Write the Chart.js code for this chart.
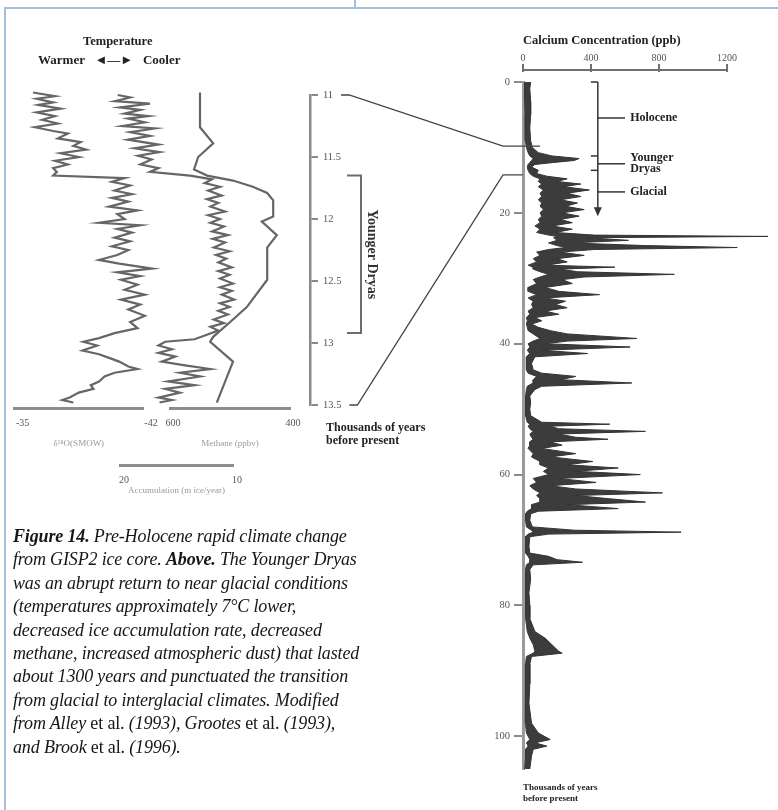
<!DOCTYPE html>
<html>
<head>
<meta charset="utf-8">
<script src="https://cdn.jsdelivr.net/npm/chart.js@4.4.1/dist/chart.umd.min.js"></script>
<style>
  body { margin: 0; background: #fff; }
  #page { position: relative; width: 778px; height: 810px; overflow: hidden; font-family: 'Liberation Serif', serif; }
  #page canvas { position: absolute; left: 0; top: 0; }
  .lbl { position: absolute; white-space: nowrap; font-weight: bold; color: #222; }
  .frame { position: absolute; background: #a6bfdc; }
  #caption { position: absolute; left: 13px; top: 525px; font-size: 18px; letter-spacing: -0.15px; line-height: 23.4px; font-style: italic; color: #161616; white-space: nowrap; }
  #caption .r { font-style: normal; }
</style>
</head>
<body>
<div id="page">
  <div class="frame" style="left:4px;top:7px;width:774px;height:2px"></div>
  <div class="frame" style="left:4px;top:7px;width:2px;height:803px"></div>
  <div class="frame" style="left:354px;top:0;width:2px;height:8px"></div>

  <canvas id="calC" width="778" height="810"></canvas>
  <canvas id="dC" width="778" height="810"></canvas>
  <canvas id="aC" width="778" height="810"></canvas>
  <canvas id="mC" width="778" height="810"></canvas>
  <canvas id="ageC" width="778" height="810"></canvas>

  <div class="lbl" style="left:83px;top:35px;font-size:12.5px;line-height:13px">Temperature</div>
  <div class="lbl" style="left:38px;top:53px;font-size:13px;line-height:13px">Warmer &nbsp;&nbsp;◄—►&nbsp;&nbsp; Cooler</div>
  <div class="lbl" style="left:326px;top:421px;font-size:12px;line-height:12.5px">Thousands of years<br>before present</div>
  <div class="lbl" style="left:523px;top:782px;font-size:9px;line-height:11px">Thousands of years<br>before present</div>

  <div id="caption">
    <b>Figure 14.</b> Pre-Holocene rapid climate change<br>
    from GISP2 ice core. <b>Above.</b> The Younger Dryas<br>
    was an abrupt return to near glacial conditions<br>
    (temperatures approximately 7°C lower,<br>
    decreased ice accumulation rate, decreased<br>
    methane, increased atmospheric dust) that lasted<br>
    about 1300 years and punctuated the transition<br>
    from glacial to interglacial climates. Modified<br>
    from Alley<span class="r"> et al.</span> (1993), Grootes<span class="r"> et al.</span> (1993),<br>
    and Brook<span class="r"> et al.</span> (1996).
  </div>
</div>

<script>
// δ18O record (left curve), ages in thousands of years
const d18Age = [10.96,10.98,11.01,11.03,11.06,11.08,11.11,11.14,11.17,11.20,
  11.23,11.26,11.29,11.31,11.35,11.38,11.41,11.44,11.47,11.50,
  11.53,11.56,11.59,11.62,11.65,11.67,11.70,11.73,11.77,11.80,
  11.83,11.86,11.90,11.93,11.96,12.00,12.03,12.05,12.08,12.11,
  12.15,12.18,12.22,12.25,12.29,12.33,12.36,12.40,12.43,12.46,
  12.49,12.53,12.57,12.61,12.65,12.69,12.73,12.78,12.83,12.88,
  12.92,12.96,12.99,13.02,13.06,13.09,13.12,13.15,13.19,13.21,
  13.24,13.27,13.31,13.34,13.37,13.40,13.44,13.46,13.48];
const d18Val = [-37.2,-36.0,-37.2,-36.2,-37.1,-36.3,-37.5,-36.2,-37.2,-36.5,
  -37.35,-36.1,-37.1,-37.9,-37.35,-38.6,-38.2,-38.9,-37.5,-38.5,
  -37.2,-37.9,-37.1,-37.3,-37.1,-41.0,-40.3,-41.3,-40.45,-41.4,
  -40.3,-41.2,-40.15,-41.7,-40.6,-41.0,-39.6,-41.85,-40.6,-41.4,
  -40.45,-41.3,-40.3,-41.2,-40.6,-39.6,-40.7,-42.5,-40.6,-41.85,
  -40.8,-41.7,-41.0,-42.1,-40.8,-41.85,-41.2,-42.1,-41.3,-41.7,
  -40.45,-39.6,-38.75,-39.5,-38.7,-39.6,-40.15,-40.7,-41.2,-41.7,
  -40.45,-39.9,-39.6,-39.15,-39.3,-38.5,-38.0,-37.6,-38.2];

// accumulation (middle curve)
const accAge = [11.00,11.02,11.05,11.07,11.10,11.12,11.15,11.17,11.19,11.22,
  11.25,11.27,11.30,11.33,11.36,11.40,11.43,11.46,11.49,11.52,
  11.56,11.59,11.62,11.65,11.68,11.71,11.74,11.77,11.81,11.84,
  11.87,11.90,11.94,11.97,12.00,12.03,12.06,12.10,12.13,12.16,
  12.19,12.23,12.26,12.29,12.32,12.35,12.39,12.42,12.45,12.48,
  12.52,12.55,12.58,12.61,12.65,12.68,12.71,12.74,12.77,12.81,
  12.84,12.87,12.90,12.94,12.97,12.99,13.02,13.05,13.08,13.11,
  13.15,13.18,13.21,13.24,13.27,13.31,13.34,13.37,13.40,13.44,
  13.46,13.48];
const accVal = [20.2,19.1,20.45,17.35,20.0,18.2,19.6,17.5,19.3,17.8,
  19.8,16.9,19.1,17.35,19.3,16.6,18.7,16.5,18.4,17.2,
  18.2,16.6,17.35,13.8,11.85,12.5,11.15,12.2,11.0,12.3,
  11.3,12.0,10.7,12.2,11.15,12.0,10.8,11.85,10.45,11.8,
  10.7,11.7,10.3,11.5,10.6,11.3,10.1,11.3,10.3,11.15,
  10.0,11.15,10.1,11.0,9.9,11.15,10.3,11.3,10.45,11.7,
  10.8,12.0,11.3,12.5,13.4,16.0,16.6,15.4,16.6,15.1,
  16.3,14.25,12.0,14.7,12.9,15.75,13.4,16.0,14.7,16.6,
  15.4,16.5];

// methane (right curve), ppbv
const ch4Age = [10.98,11.26,11.39,11.50,11.60,11.65,11.69,11.74,11.79,11.85,
  11.98,12.02,12.13,12.23,12.49,12.71,12.81,12.95,12.99,13.15,13.48];
const ch4Val = [550,550,528,553,560,538,495,462,438,428,
  428,447,422,438,438,472,495,528,533,495,522];

// calcium record, ppb (low / high envelope of the dense trace)
const calAge = [0,1,3,5,7,9,10,10.8,11.3,11.7,
  12.0,12.3,12.6,13.0,13.5,14.0,14.4,14.8,15.2,15.6,
  16.0,16.5,17.0,17.5,18.0,18.5,19.0,19.5,20.0,20.5,
  21.0,21.5,22.0,22.5,23.0,23.4,23.6,23.8,24.2,24.6,
  25.0,25.3,25.6,26.0,26.5,27.0,27.5,28.0,28.3,28.6,
  29.0,29.4,29.8,30.2,30.8,31.4,32.0,32.5,33.0,33.5,
  34.0,34.5,35.0,35.5,36.0,36.5,37.0,37.5,38.0,38.5,
  39.2,39.6,40.0,40.5,41.0,41.5,42.0,43.0,44.0,44.5,
  45.0,45.5,46.0,46.5,47.0,48.0,49.0,50.0,51.0,52.0,
  52.3,52.6,53.0,53.4,53.8,54.3,54.6,55.0,55.5,56.0,
  56.8,57.3,58.0,58.5,59.0,59.5,60.0,60.6,61.2,61.7,
  62.2,62.8,63.2,63.7,64.2,64.6,65.2,65.6,66.0,67.0,
  68.0,68.5,68.8,69.1,69.5,71.0,72.0,72.5,73.0,73.4,
  73.8,74.5,76.0,78.0,80.0,82.0,84.0,85.0,86.0,87.0,
  87.3,87.8,89.0,92.0,95.0,98.0,99.5,100.5,101.0,101.5,
  102.0,103.0,105.0];
const calLow = [10,10,10,12,12,15,20,30,40,60,
  50,40,30,25,30,40,60,100,90,110,
  90,120,100,110,90,110,100,120,100,110,
  90,100,70,100,80,150,200,180,200,150,
  200,250,150,80,100,60,80,30,60,60,
  100,150,100,60,80,30,30,80,30,60,
  50,60,30,40,20,25,20,25,30,60,
  100,60,30,40,25,40,20,20,20,30,
  80,60,60,25,20,15,15,15,15,25,
  40,30,40,60,40,50,60,40,40,30,
  60,50,100,100,150,120,150,60,80,40,
  60,100,80,100,100,50,50,25,15,15,
  20,50,60,30,15,15,15,30,40,40,
  20,15,15,15,15,15,25,40,60,70,
  60,20,15,15,12,15,20,40,20,30,
  15,15,10];
const calHigh = [45,40,45,45,40,45,55,90,170,330,
  300,180,70,50,90,80,140,260,200,340,
  240,390,260,340,220,320,250,360,230,330,
  220,290,170,290,190,420,1440,380,620,280,
  720,1260,420,220,360,200,260,140,540,220,
  320,890,360,230,290,130,210,450,130,250,
  190,260,130,210,70,110,50,90,160,260,
  670,260,130,630,110,380,70,50,60,110,
  310,220,640,110,70,40,45,40,45,110,
  510,160,210,720,210,310,500,160,230,110,
  310,160,410,260,560,310,690,210,430,160,
  310,820,310,510,720,260,560,90,45,40,
  55,300,930,150,40,35,40,150,200,350,
  60,40,45,35,40,40,70,130,170,210,
  230,50,40,40,35,50,90,160,70,140,
  60,50,40];

const calTicks = [0, 400, 800, 1200];
const ageTicks = [0, 20, 40, 60, 80, 100];
const zones = ['Holocene', 'Younger Dryas', 'Glacial'];
const zoneAge = [5.5, 12.5, 16.8];
const stageMarks = [11.3, 13.5];
const arrowPpb = 440;
const arrowAge = [0, 20.5];
const ydSpan = [11.65, 12.92];
const zoomLeft = [11, 13.5];
const zoomRight = [9.8, 14.2];
const zoomEnd = [100, 0];

const serif = "'Liberation Serif', serif";
const pts = (ys, xs) => ys.map((y, i) => ({ x: xs[i], y }));

// shift the layout padding until the plot area sits on the given box
function fit(chart, box) {
  for (let i = 0; i < 3; i++) {
    const a = chart.chartArea;
    const p = chart.config.options.layout.padding;
    chart.config.options.layout.padding = {
      left: p.left + box[0] - a.left,
      top: p.top + box[1] - a.top,
      right: p.right + a.right - box[2],
      bottom: p.bottom + a.bottom - box[3]
    };
    chart.update();
  }
}

const base = {
  indexAxis: 'y',
  responsive: false,
  animation: false,
  devicePixelRatio: 1,
  events: [],
  plugins: { legend: { display: false }, tooltip: { enabled: false } }
};

function curveChart(id, ages, vals, xr, ymax, title, titleGap, labelShift, box) {
  const chart = new Chart(document.getElementById(id), {
    type: 'line',
    data: {
      datasets: [{
        data: pts(ages, vals),
        borderColor: '#666',
        borderWidth: 2.2,
        pointRadius: 0,
        clip: false
      }]
    },
    options: {
      ...base,
      layout: { padding: { left: 0, top: 0, right: 0, bottom: 0 } },
      scales: {
        x: {
          type: 'linear',
          position: 'bottom',
          reverse: true,
          min: Math.min(...xr),
          max: Math.max(...xr),
          afterBuildTicks: (s) => { s.ticks = xr.map((v) => ({ value: v })); },
          grid: { display: false, drawTicks: false },
          border: { color: '#8d8d8d', width: 3 },
          ticks: { color: '#555', font: { family: serif, size: 10 }, padding: 8, labelOffset: labelShift,
            maxRotation: 0, autoSkip: false, callback: (v) => String(v) },
          title: { display: true, text: title, color: '#9a9a9a',
            font: { family: serif, size: 9 }, padding: { top: titleGap, bottom: 0 } }
        },
        y: { type: 'linear', reverse: true, min: 11, max: ymax, display: false }
      }
    }
  });
  fit(chart, box);
  return chart;
}

const calPlugin = {
  id: 'calAxis',
  afterDraw(chart) {
    const { ctx, chartArea: a, scales: { x, y } } = chart;
    const ay = a.top - 12;
    ctx.save();
    ctx.strokeStyle = '#6f6f6f';
    ctx.lineWidth = 2;
    ctx.beginPath();
    ctx.moveTo(x.getPixelForValue(0), ay);
    ctx.lineTo(x.getPixelForValue(calTicks[calTicks.length - 1]), ay);
    ctx.stroke();
    calTicks.forEach((v) => {
      const px = x.getPixelForValue(v);
      ctx.beginPath(); ctx.moveTo(px, ay - 6); ctx.lineTo(px, ay + 2); ctx.stroke();
    });

    // stage arrow with labels
    const ax = x.getPixelForValue(arrowPpb);
    const yTop = y.getPixelForValue(arrowAge[0]);
    const yBot = y.getPixelForValue(arrowAge[1]);
    ctx.strokeStyle = '#333';
    ctx.fillStyle = '#333';
    ctx.lineWidth = 1.5;
    ctx.beginPath(); ctx.moveTo(ax, yTop); ctx.lineTo(ax, yBot - 6); ctx.stroke();
    ctx.beginPath();
    ctx.moveTo(ax - 4, yBot - 9); ctx.lineTo(ax + 4, yBot - 9); ctx.lineTo(ax, yBot);
    ctx.closePath(); ctx.fill();
    [arrowAge[0], ...stageMarks].forEach((age) => {
      const py = y.getPixelForValue(age);
      ctx.beginPath(); ctx.moveTo(ax - 7, py); ctx.lineTo(ax, py); ctx.stroke();
    });
    ctx.font = `bold 12px ${serif}`;
    ctx.textBaseline = 'middle';
    ctx.fillStyle = '#222';
    zones.forEach((name, i) => {
      const py = y.getPixelForValue(zoneAge[i]);
      ctx.beginPath(); ctx.moveTo(ax, py); ctx.lineTo(x.getPixelForValue(600), py); ctx.stroke();
      const lines = name.split(' ');
      lines.forEach((t, j) => {
        ctx.fillText(t, x.getPixelForValue(630), py + (j - (lines.length - 1) / 2) * 11);
      });
    });
    ctx.restore();
  }
};

const calChart = new Chart(document.getElementById('calC'), {
  type: 'line',
  data: {
    datasets: [
      { data: pts(calAge, calLow), borderColor: '#3a3a3a', borderWidth: 1, pointRadius: 0, fill: false },
      { data: pts(calAge, calHigh), borderColor: '#333', borderWidth: 1, pointRadius: 0,
        backgroundColor: '#3c3c3c', fill: '-1' }
    ]
  },
  options: {
    ...base,
    layout: { padding: { left: 0, top: 0, right: 0, bottom: 0 } },
    scales: {
      x: {
        type: 'linear',
        position: 'top',
        min: 0,
        max: 1482,
        afterBuildTicks: (s) => { s.ticks = calTicks.map((v) => ({ value: v })); },
        grid: { display: false, drawTicks: false },
        border: { display: false },
        ticks: { color: '#555', font: { family: serif, size: 10 }, padding: 18,
          maxRotation: 0, autoSkip: false, callback: (v) => String(v) },
        title: { display: true, align: 'start', text: 'Calcium Concentration (ppb)', color: '#222',
          font: { family: serif, size: 12.5, weight: 'bold' }, padding: { top: 0, bottom: -14 } }
      },
      y: {
        type: 'linear',
        position: 'left',
        reverse: true,
        min: 0,
        max: 105,
        afterBuildTicks: (s) => { s.ticks = ageTicks.map((v) => ({ value: v })); },
        grid: { display: true, drawOnChartArea: false, color: '#8a8a8a', lineWidth: 2, tickLength: 9 },
        border: { color: '#9a9a9a', width: 3 },
        ticks: { color: '#555', font: { family: serif, size: 10.5 }, padding: 4, callback: (v) => String(v) }
      }
    }
  },
  plugins: [calPlugin]
});
fit(calChart, [523, 82, 775, 769]);

curveChart('dC', d18Age, d18Val, [-35, -42], 13.532, 'δ¹⁸O(SMOW)', 1, 8, [18, 95, 143, 409]);
curveChart('mC', ch4Age, ch4Val, [600, 400], 13.532, 'Methane (ppbv)', 1, 3, [170, 95, 290, 409]);
curveChart('aC', accAge, accVal, [20, 10], 13.992, 'Accumulation (m ice/year)', -9, 4, [120, 95, 233, 466]);

const ydPlugin = {
  id: 'youngerDryas',
  afterDraw(chart) {
    const { ctx, chartArea: a, scales: { y } } = chart;
    const y1 = y.getPixelForValue(ydSpan[0]);
    const y2 = y.getPixelForValue(ydSpan[1]);
    const bx = a.right + 51;
    ctx.save();
    ctx.strokeStyle = '#6d6d6d';
    ctx.lineWidth = 2;
    ctx.beginPath();
    ctx.moveTo(a.right + 37, y1); ctx.lineTo(bx, y1); ctx.lineTo(bx, y2); ctx.lineTo(a.right + 37, y2);
    ctx.stroke();
    ctx.translate(bx + 11, (y1 + y2) / 2);
    ctx.rotate(Math.PI / 2);
    ctx.font = `bold 14px ${serif}`;
    ctx.fillStyle = '#333';
    ctx.textAlign = 'center';
    ctx.textBaseline = 'middle';
    ctx.fillText('Younger Dryas', 0, 0);
    ctx.restore();

    // zoom lines to the long calcium record
    const cy = calChart.scales.y;
    const cx = calChart.scales.x;
    ctx.save();
    ctx.font = `10.5px ${serif}`;
    ctx.strokeStyle = '#444';
    ctx.lineWidth = 1.3;
    zoomLeft.forEach((age, i) => {
      const sx = a.right + 13 + ctx.measureText(String(age)).width + 8;
      const ly = y.getPixelForValue(age);
      const ry = cy.getPixelForValue(zoomRight[i]);
      const kx = calChart.chartArea.left - 20;
      ctx.beginPath();
      ctx.moveTo(sx, ly); ctx.lineTo(sx + 8, ly); ctx.lineTo(kx, ry); ctx.lineTo(cx.getPixelForValue(zoomEnd[i]), ry);
      ctx.stroke();
    });
    ctx.restore();
  }
};

const ageChart = new Chart(document.getElementById('ageC'), {
  type: 'line',
  data: { datasets: [] },
  options: {
    ...base,
    layout: { padding: { left: 0, top: 0, right: 0, bottom: 0 } },
    scales: {
      x: { type: 'linear', display: false, min: 0, max: 1 },
      y: {
        type: 'linear',
        position: 'right',
        reverse: true,
        min: 11,
        max: 13.5,
        ticks: { stepSize: 0.5, color: '#555', font: { family: serif, size: 10.5 }, padding: 5,
          callback: (v) => String(v) },
        grid: { display: true, drawOnChartArea: false, color: '#8a8a8a', lineWidth: 2, tickLength: 8 },
        border: { color: '#8a8a8a', width: 2.5 }
      }
    }
  },
  plugins: [ydPlugin]
});
fit(ageChart, [250, 95, 310, 405]);
</script>
</body>
</html>
